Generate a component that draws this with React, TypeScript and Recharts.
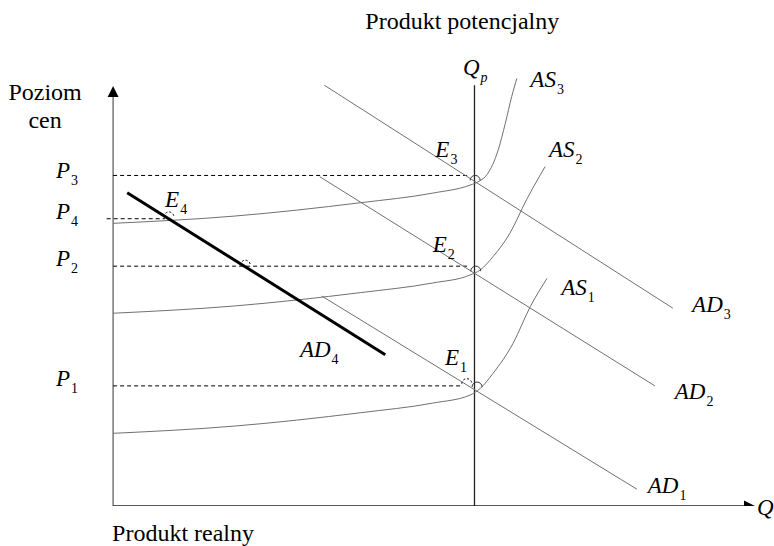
import React from 'react';
import { ComposedChart, Line, XAxis, YAxis, Scatter, ReferenceDot } from 'recharts';

// Economic diagram: price level (P) vs real output (Q), arbitrary units 0..100
const Q_POTENTIAL = 56.3;
const P3 = 78.7;
const P4 = 68.4;
const P2 = 57.1;
const P1 = 28.6;

const QP_LINE = [{ q: Q_POTENTIAL, p: 0 }, { q: Q_POTENTIAL, p: 100.2 }];
const Y_AXIS_LINE = [{ q: 0, p: 0 }, { q: 0, p: 98 }];
const X_AXIS_LINE = [{ q: 0, p: 0 }, { q: 98.5, p: 0 }];
const Y_TIP = [{ q: 0, p: 100 }];
const X_TIP = [{ q: 100, p: 0 }];

const AS3 = [
  { q: 0, p: 67.3 }, { q: 18.7, p: 69.0 }, { q: 38.5, p: 72.2 }, { q: 49.8, p: 74.5 },
  { q: 55.6, p: 76.4 }, { q: 57.0, p: 77.3 }, { q: 58.3, p: 79.0 }, { q: 60.0, p: 84.8 },
  { q: 61.1, p: 91.1 }, { q: 62.1, p: 97.5 }, { q: 62.9, p: 101.8 },
];
const AS2 = [
  { q: 0, p: 45.9 }, { q: 18.7, p: 47.6 }, { q: 38.5, p: 50.8 }, { q: 49.8, p: 53.1 },
  { q: 55.6, p: 55.0 }, { q: 57.2, p: 56.2 }, { q: 59.2, p: 59.4 }, { q: 61.8, p: 64.9 },
  { q: 64.4, p: 72.9 }, { q: 67.3, p: 80.8 },
];
const AS1 = [
  { q: 0, p: 17.3 }, { q: 18.7, p: 19.0 }, { q: 38.5, p: 22.2 }, { q: 49.8, p: 24.5 },
  { q: 55.6, p: 26.4 }, { q: 57.2, p: 28.0 }, { q: 59.2, p: 31.6 }, { q: 62.3, p: 38.7 },
  { q: 65.0, p: 47.5 }, { q: 67.6, p: 54.2 },
];

const AD3 = [{ q: 32.9, p: 100.2 }, { q: 87.2, p: 47.1 }];
const AD2 = [{ q: 32.2, p: 78.4 }, { q: 84.4, p: 28.6 }];
const AD1 = [{ q: 32.5, p: 50.0 }, { q: 81.6, p: 4.0 }];
const AD4 = [{ q: 2.2, p: 74.6 }, { q: 42.4, p: 36.0 }];

const GUIDE_P3 = [{ q: 0, p: P3 }, { q: 55.6, p: P3 }];
const GUIDE_P4 = [{ q: -1.0, p: P4 }, { q: 8.1, p: P4 }];
const GUIDE_P2 = [{ q: 0, p: P2 }, { q: 55.6, p: P2 }];
const GUIDE_P1 = [{ q: 0, p: P1 }, { q: 54.3, p: P1 }];

const SOLID_MARKS = [{ q: 56.4, p: 78.0 }, { q: 56.5, p: 56.4 }, { q: 56.7, p: 28.8 }];
const DASHED_MARKS = [{ q: 8.7, p: 69.3 }, { q: 20.6, p: 57.8 }, { q: 55.1, p: 29.6 }];

type Lbl = { text: string; sub?: string; q: number; p: number; italic?: boolean; anchor?: string; subItalic?: boolean };
const LABELS: Lbl[] = [
  { text: 'Produkt potencjalny', q: 54.4, p: 113.6, anchor: 'middle' },
  { text: 'Produkt realny', q: 10.9, p: -8.3, anchor: 'middle' },
  { text: 'Poziom', q: -10.6, p: 96.7, anchor: 'middle' },
  { text: 'cen', q: -10.6, p: 90.0, anchor: 'middle' },
  { text: 'P', sub: '3', q: -8.9, p: 78.1, italic: true },
  { text: 'P', sub: '4', q: -8.9, p: 68.3, italic: true },
  { text: 'P', sub: '2', q: -8.9, p: 57.1, italic: true },
  { text: 'P', sub: '1', q: -8.9, p: 28.6, italic: true },
  { text: 'E', sub: '4', q: 8.1, p: 71.2, italic: true },
  { text: 'E', sub: '3', q: 50.2, p: 83.1, italic: true },
  { text: 'E', sub: '2', q: 49.8, p: 60.5, italic: true },
  { text: 'E', sub: '1', q: 51.7, p: 33.6, italic: true },
  { text: 'Q', sub: 'p', q: 54.5, p: 102.6, italic: true, subItalic: true },
  { text: 'AS', sub: '3', q: 65.0, p: 99.8, italic: true },
  { text: 'AS', sub: '2', q: 67.9, p: 83.1, italic: true },
  { text: 'AS', sub: '1', q: 69.8, p: 50.2, italic: true },
  { text: 'AD', sub: '3', q: 90.2, p: 46.2, italic: true },
  { text: 'AD', sub: '2', q: 87.5, p: 25.5, italic: true },
  { text: 'AD', sub: '1', q: 83.3, p: 3.1, italic: true },
  { text: 'AD', sub: '4', q: 29.1, p: 35.5, italic: true },
  { text: 'Q', q: 100.3, p: -2.1, italic: true },
];

const FONT = 'Times New Roman, Liberation Serif, DejaVu Serif, serif';
const GRAY = '#707070';

const arcSolid = (props: any) => {
  const { cx, cy } = props;
  const r = 5;
  return <path d={`M ${cx - r} ${cy + 2} A ${r} ${r} 0 1 1 ${cx + r} ${cy + 2}`} fill="none" stroke="#333" strokeWidth={1} />;
};
const arcDashed = (props: any) => {
  const { cx, cy } = props;
  const r = 5;
  return <path d={`M ${cx - r} ${cy + 2} A ${r} ${r} 0 1 1 ${cx + r} ${cy + 2}`} fill="none" stroke="#000" strokeWidth={1} strokeDasharray="2 2" />;
};
const yArrow = (props: any) => {
  const { cx, cy } = props;
  return <path d={`M ${cx} ${cy} L ${cx - 5.5} ${cy + 11} L ${cx + 5.5} ${cy + 11} Z`} fill="#000" />;
};
const xArrow = (props: any) => {
  const { cx, cy } = props;
  return <path d={`M ${cx} ${cy} L ${cx - 11} ${cy - 5.5} L ${cx - 11} ${cy + 5.5} Z`} fill="#000" />;
};

const makeLabel = (l: Lbl) => (props: any) => (
  <g>
    <text
      x={props.cx}
      y={props.cy}
      fontFamily={FONT}
      fontSize={l.italic ? 23 : 24}
      fontStyle={l.italic ? 'italic' : 'normal'}
      textAnchor={(l.anchor as any) || 'start'}
      fill="#000"
    >
      {l.text}
      {l.sub ? (
        <tspan fontFamily={FONT} fontSize={14} fontStyle={l.subItalic ? 'italic' : 'normal'} dx={1} dy={7}>
          {l.sub}
        </tspan>
      ) : null}
    </text>
  </g>
);

export default function App() {
  const line = (data: any[], stroke: string, width: number, dash?: string, type: any = 'linear', key?: string) => (
    <Line
      key={key}
      data={data}
      dataKey="p"
      type={type}
      stroke={stroke}
      strokeWidth={width}
      strokeDasharray={dash}
      dot={false}
      activeDot={false}
      isAnimationActive={false}
      legendType="none"
    />
  );
  return (
    <div style={{ position: 'absolute', left: 0, top: 0, background: '#fff' }}>
      <ComposedChart width={774} height={546} margin={{ top: 44, right: 19, bottom: 40, left: 81 }}>
        <XAxis type="number" dataKey="q" domain={[-5, 100]} hide allowDataOverflow />
        <YAxis type="number" dataKey="p" domain={[0, 110]} hide allowDataOverflow />
        {line(Y_AXIS_LINE, '#777', 1.5, undefined, 'linear', 'yax')}
        {line(X_AXIS_LINE, '#222', 1.3, undefined, 'linear', 'xax')}
        {line(QP_LINE, '#222', 1.3, undefined, 'linear', 'qp')}
        {line(GUIDE_P3, '#000', 1, '4 3', 'linear', 'g3')}
        {line(GUIDE_P4, '#000', 1, '4 3', 'linear', 'g4')}
        {line(GUIDE_P2, '#000', 1, '4 3', 'linear', 'g2')}
        {line(GUIDE_P1, '#000', 1, '4 3', 'linear', 'g1')}
        {line(AS3, GRAY, 1, undefined, 'monotone', 'as3')}
        {line(AS2, GRAY, 1, undefined, 'monotone', 'as2')}
        {line(AS1, GRAY, 1, undefined, 'monotone', 'as1')}
        {line(AD3, GRAY, 1, undefined, 'linear', 'ad3')}
        {line(AD2, GRAY, 1, undefined, 'linear', 'ad2')}
        {line(AD1, GRAY, 1, undefined, 'linear', 'ad1')}
        {line(AD4, '#000', 3, undefined, 'linear', 'ad4')}
        <Scatter data={SOLID_MARKS} dataKey="p" shape={arcSolid} isAnimationActive={false} legendType="none" />
        <Scatter data={DASHED_MARKS} dataKey="p" shape={arcDashed} isAnimationActive={false} legendType="none" />
        <Scatter data={Y_TIP} dataKey="p" shape={yArrow} isAnimationActive={false} legendType="none" />
        <Scatter data={X_TIP} dataKey="p" shape={xArrow} isAnimationActive={false} legendType="none" />
        {LABELS.map((l, i) => (
          <ReferenceDot key={'lbl' + i} x={l.q} y={l.p} r={0} ifOverflow="visible" shape={makeLabel(l)} />
        ))}
      </ComposedChart>
    </div>
  );
}
